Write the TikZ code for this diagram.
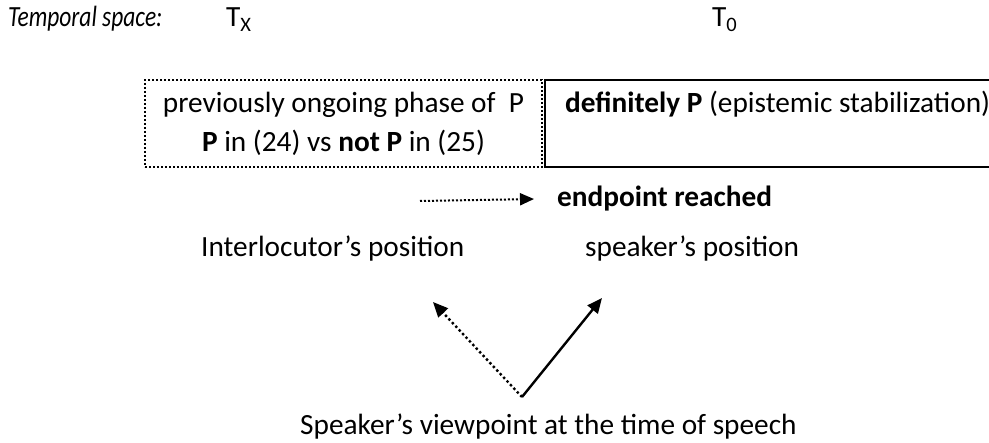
\documentclass[tikz,border=0pt]{standalone}
\usepackage{fontspec}
\setmainfont{Carlito}
\usetikzlibrary{arrows.meta}
\begin{document}
\begin{tikzpicture}[x=1pt,y=-1pt,
  every node/.style={font=\fontsize{29.3}{39}\selectfont, inner sep=0pt},
  lbl/.style={anchor=base west},
  dotbox/.style={draw, line width=2pt, dash pattern=on 2pt off 2pt, align=center,
    minimum width=397pt, minimum height=87pt},
  solidline/.style={line width=2pt},
  dotarrow/.style={line width=2.4pt, dash pattern=on 2.4pt off 2.6pt, -{Triangle[length=15pt,width=13pt]}},
  solarrow/.style={line width=2.4pt, -{Triangle[length=15pt,width=13pt]}},
  eparrow/.style={line width=2pt, dash pattern=on 2pt off 2pt, -{Triangle[length=14pt,width=12pt]}}
]
\useasboundingbox (0,0) rectangle (989,443);

\node[lbl, xscale=0.8, transform shape] (ts) at (8,27) {\itshape Temporal space:};
\node[lbl] (tx) at (226,27) {T\textsubscript{X}};
\node[lbl] (t0) at (712,27) {T\textsubscript{0}};

\node[dotbox] (lbox) at (343.5,123.5) {previously ongoing phase of~ P\\\textbf{P} in (24) vs \textbf{not P} in (25)};
\node[anchor=north west, minimum width=460pt, minimum height=87pt] (rbox) at (545,80) {};
\draw[solidline] (rbox.north east) -- (rbox.north west) -- (rbox.south west) -- (rbox.south east);
\node[lbl] (def) at (565,113) {\textbf{definitely P} (epistemic stabilization)};

\node[lbl] (endp) at (557,207) {\textbf{endpoint reached}};
\coordinate (epstart) at (420,201);
\draw[eparrow] (epstart) -- (endp.west -| 534,0);

\node[lbl] (ipos) at (201,257) {Interlocutor’s position};
\node[lbl] (spos) at (585,257) {speaker’s position};

\node[lbl] (view) at (300,435) {Speaker’s viewpoint at the time of speech};
\coordinate (vp) at (522,397);
\coordinate (itip) at (433,302);
\coordinate (stip) at (602,298);
\draw[dotarrow] (vp) -- (itip);
\draw[solarrow] (vp) -- (stip);
\end{tikzpicture}
\end{document}
